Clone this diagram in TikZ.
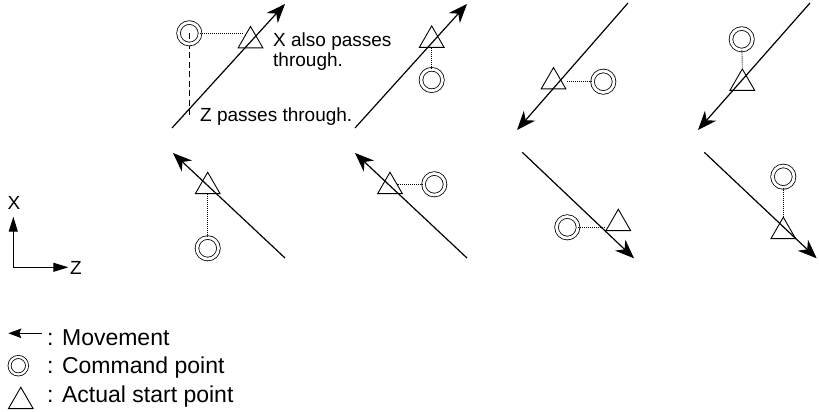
\documentclass[tikz,border=0pt]{standalone}
\usepackage{fontspec}
\setmainfont{Liberation Sans}
\usetikzlibrary{arrows.meta,shapes.geometric}
\begin{document}
\begin{tikzpicture}[x=1pt,y=-1pt,
  mvline/.style={line width=1.2pt,-{Stealth[length=19pt,width=15pt,inset=6pt]}},
  axarr/.style={line width=1pt,-{Triangle[length=15pt,width=9pt]}},
  legarr/.style={line width=1pt,-{Stealth[length=13pt,width=9.5pt,inset=2pt]}},
  cmd/.style={circle,draw,double,double distance=2.8pt,line width=0.8pt,minimum size=21.5pt,inner sep=0pt},
  cmdsmall/.style={circle,draw,double,double distance=2.2pt,line width=0.8pt,minimum size=17.5pt,inner sep=0pt},
  tri/.style={regular polygon,regular polygon sides=3,draw,line width=0.9pt,minimum size=28.5pt,inner sep=0pt},
  dotc/.style={line width=0.9pt,dash pattern=on 1pt off 1pt},
  zdash/.style={line width=0.9pt,dash pattern=on 6pt off 3.5pt},
  lbl/.style={font=\fontsize{19}{20}\selectfont,anchor=base west,inner sep=0pt},
  axl/.style={font=\fontsize{19}{20}\selectfont,inner sep=0pt},
  lg/.style={font=\fontsize{23}{24}\selectfont,anchor=base west,inner sep=0pt}
]
\useasboundingbox (0,0) rectangle (819,412);

% ---- panel 1
\coordinate (p1s) at (172,128); \coordinate (p1e) at (285,4);
\coordinate (z1) at (189.3,118);
\draw[zdash] (189.3,33.3) -- (z1);
\node[cmd] (c1) at (189.3,33.3) {};
\node[tri] (t1) at (250.5,40.7) {};
\draw[mvline] (p1s) -- (p1e);
\draw[dotc] (c1) -- (c1 -| t1.side 1);
\node[lbl] (tx1) at (273,46.7) {X also passes};
\node[lbl] (tx2) at (273,66.7) {through.};
\node[lbl] (tx3) at (200,121.7) {Z passes through.};

% ---- panel 2
\coordinate (p2s) at (355,128); \coordinate (p2e) at (467,4);
\node[tri] (t2) at (431.7,40.2) {};
\node[cmd] (c2) at (431.7,80) {};
\draw[mvline] (p2s) -- (p2e);
\draw[dotc] (c2) -- (t2.side 2);

% ---- panel 3
\coordinate (p3s) at (628,3); \coordinate (p3e) at (517,130);
\node[tri] (t3) at (553.5,81.8) {};
\node[cmd] (c3) at (603.3,81.7) {};
\draw[mvline] (p3s) -- (p3e);
\draw[dotc] (c3) -- (c3 -| t3.corner 3);

% ---- panel 4
\coordinate (p4s) at (810,3); \coordinate (p4e) at (698,130);
\node[cmd] (c4) at (741.7,39.3) {};
\node[tri] (t4) at (742.3,83.2) {};
\draw[mvline] (p4s) -- (p4e);
\draw[dotc] (c4) -- (t4.corner 1);

% ---- panel 5
\coordinate (p5s) at (285,258); \coordinate (p5e) at (173,153);
\node[tri] (t5) at (207.7,186.5) {};
\node[cmd] (c5) at (207.7,248.3) {};
\draw[mvline] (p5s) -- (p5e);
\draw[dotc] (t5.side 2) -- (c5);

% ---- panel 6
\coordinate (p6s) at (467,258); \coordinate (p6e) at (355,153);
\node[tri] (t6) at (390,186.5) {};
\node[cmd] (c6) at (434.3,184.3) {};
\draw[mvline] (p6s) -- (p6e);
\draw[dotc] (c6) -- (c6 -| t6.side 3);

% ---- panel 7
\coordinate (p7s) at (522.3,152.3); \coordinate (p7e) at (634,258.3);
\node[tri] (t7) at (618.3,223.5) {};
\node[cmd] (c7) at (567.3,227.3) {};
\draw[mvline] (p7s) -- (p7e);
\draw[dotc] (c7) -- (c7 -| t7.corner 2);

% ---- panel 8
\coordinate (p8s) at (704.3,152.3); \coordinate (p8e) at (816.7,258.3);
\node[cmd] (c8) at (783.3,176.7) {};
\node[tri] (t8) at (783.3,231.5) {};
\draw[mvline] (p8s) -- (p8e);
\draw[dotc] (c8) -- (t8.corner 1);

% ---- axes
\coordinate (o) at (13.3,267.3);
\coordinate (xa) at (13.3,216.7);
\coordinate (za) at (68.3,267.3);
\draw[axarr] (o) -- (xa);
\draw[axarr] (o) -- (za);
\node[axl] (X) at (14,202.5) {X};
\node[axl] (Z) at (76,268.3) {Z};

% ---- legend
\coordinate (la1) at (41.7,333.3); \coordinate (la2) at (8.3,333.3);
\draw[legarr] (la1) -- (la2);
\node[lg] (l1) at (47,345.7) {: Movement};
\node[cmdsmall] (lc) at (18.3,365.7) {};
\node[lg] (l2) at (47,373.3) {: Command point};
\node[tri] (lt) at (20.8,401.5) {};
\node[lg] (l3) at (47,402.3) {: Actual start point};
\end{tikzpicture}
\end{document}
